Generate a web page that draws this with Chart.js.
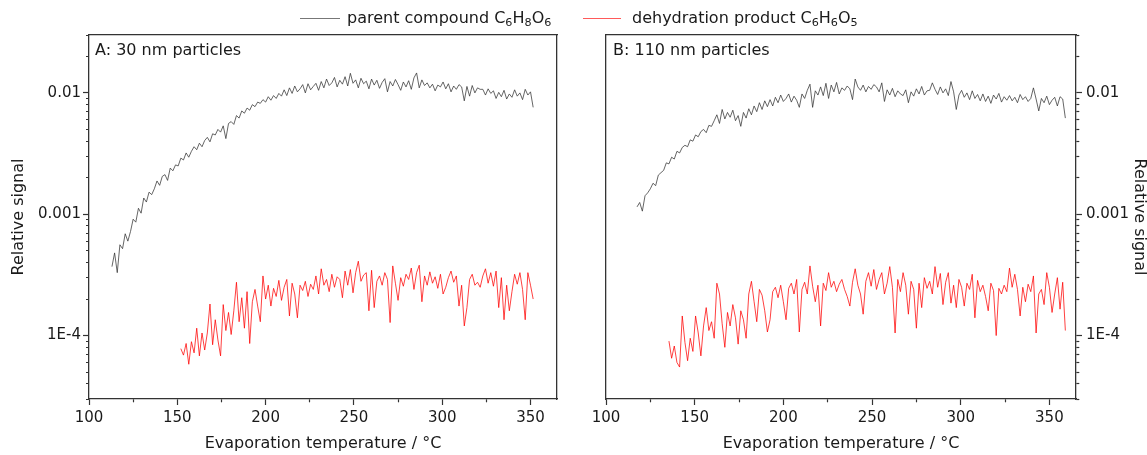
<!DOCTYPE html>
<html><head><meta charset="utf-8">
<script src="https://cdn.jsdelivr.net/npm/chart.js@4.4.1/dist/chart.umd.min.js"></script>
<style>
html,body{margin:0;padding:0;background:#fff;}
#wrap{position:relative;width:1147px;height:455px;overflow:hidden;font-family:"DejaVu Sans",sans-serif;color:#1a1a1a;}
canvas{position:absolute;top:0;}
#cA{left:0}
#cB{left:573px}
.lbl{position:absolute;font-size:16px;line-height:20px;white-space:nowrap;}
.leg-line{position:absolute;height:0;border-top:1px solid;}
sub{font-size:70%;vertical-align:-0.3em;line-height:0}
</style></head><body>
<div id="wrap">
<canvas id="cA" width="573" height="455"></canvas>
<canvas id="cB" width="574" height="455"></canvas>
<div class="leg-line" style="left:300px;top:18px;width:40px;border-color:#777"></div>
<div class="lbl" style="left:347px;top:8px">parent compound C<sub>6</sub>H<sub>8</sub>O<sub>6</sub></div>
<div class="leg-line" style="left:583px;top:18px;width:38px;border-color:#ff5a5a"></div>
<div class="lbl" style="left:632px;top:8px">dehydration product C<sub>6</sub>H<sub>6</sub>O<sub>5</sub></div>
<div class="lbl" style="left:95px;top:40px">A: 30 nm particles</div>
<div class="lbl" style="left:613px;top:40px">B: 110 nm particles</div>
</div>
<script>
// ---------- data ----------
const tempsA = [
113,114.5,116,117.5,119,120.5,122,123.5,125,126.5,
128,129.5,131,132.5,134,135.5,137,138.5,140,141.5,
143,144.5,146,147.5,149,150.5,152,153.5,155,156.5,
158,159.5,161,162.5,164,165.5,167,168.5,170,171.5,
173,174.5,176,177.5,179,180.5,182,183.5,185,186.5,
188,189.5,191,192.5,194,195.5,197,198.5,200,201.5,
203,204.5,206,207.5,209,210.5,212,213.5,215,216.5,
218,219.5,221,222.5,224,225.5,227,228.5,230,231.5,
233,234.5,236,237.5,239,240.5,242,243.5,245,246.5,
248,249.5,251,252.5,254,255.5,257,258.5,260,261.5,
263,264.5,266,267.5,269,270.5,272,273.5,275,276.5,
278,279.5,281,282.5,284,285.5,287,288.5,290,291.5,
293,294.5,296,297.5,299,300.5,302,303.5,305,306.5,
308,309.5,311,312.5,314,315.5,317,318.5,320,321.5,
323,324.5,326,327.5,329,330.5,332,333.5,335,336.5,
338,339.5,341,342.5,344,345.5,347,348.5,350,351.5];

const parentA = [
3.7e-4,4.8e-4,3.3e-4,5.6e-4,5.2e-4,6.9e-4,6.0e-4,7.2e-4,9.1e-4,8.6e-4,1.12e-3,1.02e-3,
1.36e-3,1.26e-3,1.52e-3,1.45e-3,1.62e-3,1.88e-3,1.73e-3,2.05e-3,2.12e-3,1.9e-3,2.4e-3,2.28e-3,2.55e-3,
2.5e-3,2.9e-3,2.8e-3,3.2e-3,2.95e-3,3.3e-3,3.6e-3,3.4e-3,3.85e-3,3.6e-3,4.05e-3,4.3e-3,3.95e-3,4.6e-3,
4.5e-3,5.0e-3,4.75e-3,5.35e-3,4.2e-3,5.6e-3,5.8e-3,5.5e-3,6.5e-3,6.2e-3,7.1e-3,6.8e-3,7.5e-3,
7.2e-3,8.0e-3,7.7e-3,8.4e-3,8.2e-3,8.8e-3,8.4e-3,9.3e-3,8.7e-3,9.5e-3,9.0e-3,9.9e-3,9.4e-3,
1.06e-2,9.5e-3,1.1e-2,9.9e-3,1.14e-2,1.02e-2,1.08e-2,1.17e-2,1.0e-2,1.19e-2,1.06e-2,1.13e-2,1.2e-2,1.05e-2,
1.24e-2,1.1e-2,1.3e-2,1.15e-2,1.21e-2,1.34e-2,1.12e-2,1.27e-2,1.18e-2,1.36e-2,1.14e-2,1.45e-2,1.2e-2,1.28e-2,1.1e-2,1.32e-2,1.19e-2,1.25e-2,1.08e-2,1.3e-2,
1.16e-2,1.27e-2,1.09e-2,1.22e-2,1.31e-2,1.02e-2,1.24e-2,1.14e-2,1.29e-2,1.17e-2,1.05e-2,1.23e-2,1.12e-2,1.26e-2,1.07e-2,1.33e-2,1.46e-2,1.1e-2,1.28e-2,1.15e-2,
1.21e-2,1.1e-2,1.18e-2,1.04e-2,1.16e-2,1.12e-2,1.23e-2,1.08e-2,1.19e-2,1.02e-2,1.14e-2,1.07e-2,1.17e-2,1.12e-2,8.6e-3,1.13e-2,9.4e-3,1.15e-2,1.0e-2,1.1e-2,
1.07e-2,1.07e-2,9.6e-3,1.08e-2,9.9e-3,1.04e-2,9.0e-3,1.01e-2,9.3e-3,1.05e-2,8.9e-3,9.8e-3,9.2e-3,1.06e-2,9.4e-3,1.0e-2,8.8e-3,1.07e-2,9.6e-3,1.02e-2,7.6e-3];

// product series ends at the same temperature as the parent series
const productA = [
7.8e-5,6.9e-5,8.6e-5,5.8e-5,8.9e-5,7.2e-5,1.15e-4,6.8e-5,1.05e-4,7.6e-5,
1.05e-4,1.82e-4,8.4e-5,1.35e-4,9.2e-5,6.8e-5,1.8e-4,1.1e-4,1.55e-4,1.02e-4,
1.6e-4,2.75e-4,1.3e-4,2.05e-4,1.15e-4,2.3e-4,8.6e-5,1.9e-4,2.4e-4,1.75e-4,
1.3e-4,3.1e-4,2.0e-4,2.6e-4,1.75e-4,2.45e-4,2.1e-4,2.85e-4,1.95e-4,2.5e-4,
2.9e-4,1.45e-4,2.7e-4,2.2e-4,1.4e-4,2.6e-4,2.35e-4,2.8e-4,2.1e-4,2.65e-4,
2.4e-4,3.1e-4,2.2e-4,3.55e-4,2.6e-4,2.9e-4,2.3e-4,3.2e-4,2.5e-4,3.05e-4,
2.9e-4,2.05e-4,3.4e-4,2.6e-4,3.5e-4,2.25e-4,3.3e-4,4.1e-4,2.8e-4,3.15e-4,
3.3e-4,1.6e-4,3.45e-4,1.7e-4,2.8e-4,3.1e-4,2.6e-4,3.3e-4,2.9e-4,1.28e-4,
3.75e-4,2.7e-4,1.95e-4,3.0e-4,2.55e-4,3.2e-4,2.9e-4,3.6e-4,2.4e-4,3.3e-4,
3.8e-4,1.9e-4,3.1e-4,2.6e-4,3.35e-4,2.7e-4,3.05e-4,2.45e-4,3.2e-4,2.2e-4,
2.5e-4,3.0e-4,3.4e-4,2.75e-4,3.1e-4,1.75e-4,2.6e-4,1.2e-4,1.7e-4,2.9e-4,
3.2e-4,2.6e-4,2.75e-4,2.5e-4,3.1e-4,3.55e-4,2.7e-4,3.3e-4,2.55e-4,3.4e-4,
1.7e-4,3.0e-4,1.35e-4,2.6e-4,1.6e-4,2.3e-4,3.2e-4,2.65e-4,3.3e-4,2.4e-4,
1.35e-4,3.3e-4,2.6e-4,2.0e-4];

const tempsB = [
117.5,119,120.5,122,123.5,125,126.5,128,129.5,131,
132.5,134,135.5,137,138.5,140,141.5,143,144.5,146,
147.5,149,150.5,152,153.5,155,156.5,158,159.5,161,
162.5,164,165.5,167,168.5,170,171.5,173,174.5,176,
177.5,179,180.5,182,183.5,185,186.5,188,189.5,191,
192.5,194,195.5,197,198.5,200,201.5,203,204.5,206,
207.5,209,210.5,212,213.5,215,216.5,218,219.5,221,
222.5,224,225.5,227,228.5,230,231.5,233,234.5,236,
237.5,239,240.5,242,243.5,245,246.5,248,249.5,251,
252.5,254,255.5,257,258.5,260,261.5,263,264.5,266,
267.5,269,270.5,272,273.5,275,276.5,278,279.5,281,
282.5,284,285.5,287,288.5,290,291.5,293,294.5,296,
297.5,299,300.5,302,303.5,305,306.5,308,309.5,311,
312.5,314,315.5,317,318.5,320,321.5,323,324.5,326,
327.5,329,330.5,332,333.5,335,336.5,338,339.5,341,
342.5,344,345.5,347,348.5,350,351.5,353,354.5,356,
357.5,359];

const parentB = [
1.15e-3,1.25e-3,1.06e-3,1.42e-3,1.5e-3,1.62e-3,1.8e-3,1.72e-3,2.1e-3,2.2e-3,
2.3e-3,2.65e-3,2.6e-3,2.95e-3,2.85e-3,3.3e-3,3.2e-3,3.55e-3,3.7e-3,3.6e-3,
4.1e-3,4.0e-3,4.5e-3,4.35e-3,4.8e-3,5.0e-3,4.7e-3,5.4e-3,5.3e-3,5.9e-3,
6.6e-3,5.6e-3,7.3e-3,6.1e-3,6.9e-3,6.3e-3,7.2e-3,5.9e-3,6.5e-3,5.3e-3,
6.9e-3,6.2e-3,7.4e-3,6.6e-3,7.8e-3,7.0e-3,8.3e-3,7.3e-3,8.6e-3,7.7e-3,
8.8e-3,7.8e-3,9.2e-3,8.3e-3,9.6e-3,8.5e-3,9.0e-3,9.8e-3,8.4e-3,9.4e-3,
8.7e-3,7.6e-3,9.8e-3,9.0e-3,1.05e-2,1.18e-2,7.6e-3,1.04e-2,9.6e-3,1.12e-2,
9.5e-3,1.2e-2,9.0e-3,1.16e-2,1.02e-2,1.22e-2,9.8e-3,1.1e-2,1.05e-2,1.14e-2,
1.08e-2,8.8e-3,1.3e-2,1.12e-2,1.05e-2,1.16e-2,1.02e-2,1.13e-2,1.07e-2,1.17e-2,
1.12e-2,1.02e-2,1.21e-2,8.5e-3,1.06e-2,9.6e-3,1.09e-2,9.3e-3,1.04e-2,9.8e-3,
9.5e-3,1.06e-2,8.3e-3,1.02e-2,9.4e-3,1.08e-2,9.8e-3,1.13e-2,9.6e-3,1.04e-2,
1.05e-2,1.21e-2,1.07e-2,9.7e-3,1.12e-2,1.0e-2,1.08e-2,9.5e-3,1.24e-2,1.02e-2,
7.3e-3,9.6e-3,1.05e-2,9.2e-3,1.0e-2,8.8e-3,1.04e-2,9.0e-3,9.7e-3,8.6e-3,
9.8e-3,8.5e-3,9.4e-3,8.2e-3,9.6e-3,8.9e-3,9.9e-3,8.4e-3,9.3e-3,8.7e-3,
9.5e-3,8.6e-3,9.2e-3,8.3e-3,9.7e-3,8.8e-3,9.3e-3,8.5e-3,9.0e-3,1.1e-2,
8.9e-3,7.1e-3,9.0e-3,8.3e-3,9.4e-3,8.0e-3,8.7e-3,9.2e-3,7.8e-3,9.3e-3,
8.9e-3,6.2e-3];

const productB = [
9.0e-5,6.5e-5,8.2e-5,6.0e-5,5.5e-5,1.45e-4,8.8e-5,6.2e-5,9.5e-5,7.4e-5,
1.45e-4,1.05e-4,6.8e-5,1.2e-4,1.7e-4,1.1e-4,1.3e-4,9.5e-5,2.7e-4,2.2e-4,
1.25e-4,8.0e-5,1.55e-4,1.2e-4,1.8e-4,1.4e-4,8.5e-5,1.6e-4,1.35e-4,9.5e-5,
2.2e-4,2.8e-4,1.9e-4,1.3e-4,2.4e-4,2.15e-4,1.6e-4,1.07e-4,1.35e-4,2.3e-4,
2.5e-4,2.05e-4,2.6e-4,1.9e-4,1.35e-4,2.45e-4,2.7e-4,2.2e-4,2.9e-4,1.07e-4,
2.4e-4,2.75e-4,2.2e-4,3.75e-4,2.55e-4,1.9e-4,2.6e-4,1.2e-4,2.7e-4,2.35e-4,
3.3e-4,2.5e-4,2.8e-4,2.3e-4,2.65e-4,2.9e-4,2.4e-4,2.1e-4,1.75e-4,2.75e-4,
3.55e-4,2.6e-4,2.2e-4,1.5e-4,2.8e-4,3.3e-4,2.55e-4,3.5e-4,2.4e-4,2.9e-4,
3.3e-4,2.2e-4,2.7e-4,3.7e-4,2.5e-4,1.05e-4,2.9e-4,2.3e-4,3.3e-4,2.6e-4,
1.5e-4,2.8e-4,2.4e-4,1.15e-4,2.7e-4,1.7e-4,3.0e-4,2.45e-4,2.8e-4,2.2e-4,
3.7e-4,2.5e-4,3.25e-4,1.8e-4,2.75e-4,3.3e-4,1.85e-4,2.6e-4,1.7e-4,2.9e-4,
2.5e-4,1.75e-4,2.7e-4,2.4e-4,3.2e-4,1.4e-4,2.85e-4,2.3e-4,2.6e-4,2.1e-4,
1.6e-4,2.7e-4,2.35e-4,1.0e-4,2.45e-4,2.2e-4,2.6e-4,2.3e-4,3.6e-4,2.5e-4,
3.2e-4,2.4e-4,1.45e-4,2.5e-4,1.9e-4,2.65e-4,2.3e-4,3.1e-4,1.05e-4,2.2e-4,
2.4e-4,1.8e-4,3.3e-4,2.5e-4,1.55e-4,2.2e-4,3.0e-4,1.65e-4,2.75e-4,1.1e-4];

const seriesNames = ['parent compound C6H8O6', 'dehydration product C6H6O5'];
const seriesColors = ['#333333', '#ff0000'];

// axes
const xMin = 100, xMax = 365;
const xTickValues = [100,125,150,175,200,225,250,275,300,325,350];
const xLabelValues = [100,150,200,250,300,350];
const yMin = 3e-5, yMax = 3e-2;
const yDecades = [-5,-4,-3,-2];
const yMantissas = [1,2,3,4,5,6,7,8,9];
const yMajorValues = [1e-4, 1e-3, 1e-2];
const yMajorLabels = ['1E-4', '0.001', '0.01'];
const yTitle = 'Relative signal';
const xTitle = 'Evaporation temperature / \u00B0C';

// ---------- chart construction ----------
const FONT = '"DejaVu Sans", sans-serif';
const TXT = '#1a1a1a';
const AXIS = '#333';
Chart.defaults.font.family = FONT;
Chart.defaults.color = TXT;

const yTickValues = [];
yDecades.forEach(e => yMantissas.forEach(m => {
  const v = Number(m + 'e' + e);
  if (v >= yMin && v <= yMax) yTickValues.push(v);
}));

function series(label, temps, values, color) {
  const off = temps.length - values.length;
  return {
    label, borderColor: color, borderWidth: 0.75, pointRadius: 0, tension: 0, fill: false,
    data: values.map((v, i) => ({x: temps[i + off], y: v}))
  };
}

function frameAxis(position) {
  const horiz = position === 'top' || position === 'bottom';
  return {
    type: 'linear', position, min: 0, max: 1,
    ticks: {display: false},
    grid: {drawOnChartArea: false, drawTicks: false},
    border: {display: true, color: AXIS, width: 1.3},
    afterFit: s => { if (horiz) s.height = 0; else s.width = 0; }
  };
}

function makeChart(id, temps, parent, product, ySide) {
  const isLeft = ySide === 'left';
  const scales = {
    x: {
      type: 'linear', position: 'bottom', min: xMin, max: xMax,
      afterBuildTicks: s => { s.ticks = xTickValues.map(v => ({value: v})); },
      afterFit: s => { s.height = 56; },
      ticks: {autoSkip: false, maxRotation: 0, padding: 4, font: {size: 15}, color: TXT,
        callback: v => xLabelValues.includes(v) ? String(v) : ''},
      grid: {drawOnChartArea: false, drawTicks: true, tickLength: 6, tickWidth: 1.2, tickColor: AXIS,
        tickBorderDash: c => (c.tick && xLabelValues.includes(c.tick.value)) ? [] : [3, 50]},
      border: {display: true, color: AXIS, width: 1.3},
      title: {display: true, text: xTitle, color: TXT, font: {size: 16, lineHeight: 1}, padding: {top: 0, bottom: 3}}
    },
    xTop: frameAxis('top'),
    y: {
      type: 'logarithmic', position: ySide, min: yMin, max: yMax,
      afterBuildTicks: s => { s.ticks = yTickValues.map(v => ({value: v})); },
      afterFit: s => { s.width = isLeft ? 89 : 71; },
      ticks: {autoSkip: false, padding: isLeft ? 2 : 4, font: {size: 15}, color: TXT,
        callback: v => { const i = yMajorValues.indexOf(v); return i >= 0 ? yMajorLabels[i] : ''; }},
      grid: {drawOnChartArea: false, drawTicks: true, tickLength: 6, tickWidth: 1.2, tickColor: AXIS,
        tickBorderDash: c => (c.tick && yMajorValues.includes(c.tick.value)) ? [] : (isLeft ? [0, 3, 3, 50] : [3, 50])},
      border: {display: true, color: AXIS, width: 1.3},
      title: {display: true, text: yTitle, color: TXT, font: {size: 16, lineHeight: 1},
        padding: {top: isLeft ? 11 : 0, bottom: 0}}
    }
  };
  if (isLeft) scales.yFrame = frameAxis('right'); else scales.yFrame = frameAxis('left');
  return new Chart(document.getElementById(id), {
    type: 'line',
    data: {datasets: [
      series(seriesNames[0], temps, parent, seriesColors[0]),
      series(seriesNames[1], temps, product, seriesColors[1])
    ]},
    options: {
      responsive: false, animation: false, events: [],
      layout: {padding: isLeft ? {left: 0, top: 35, right: 16, bottom: 0} : {left: 33, top: 35, right: 0, bottom: 0}},
      plugins: {legend: {display: false}, tooltip: {enabled: false}, title: {display: false}},
      scales
    }
  });
}

makeChart('cA', tempsA, parentA, productA, 'left');
makeChart('cB', tempsB, parentB, productB, 'right');
</script>
</body></html>
